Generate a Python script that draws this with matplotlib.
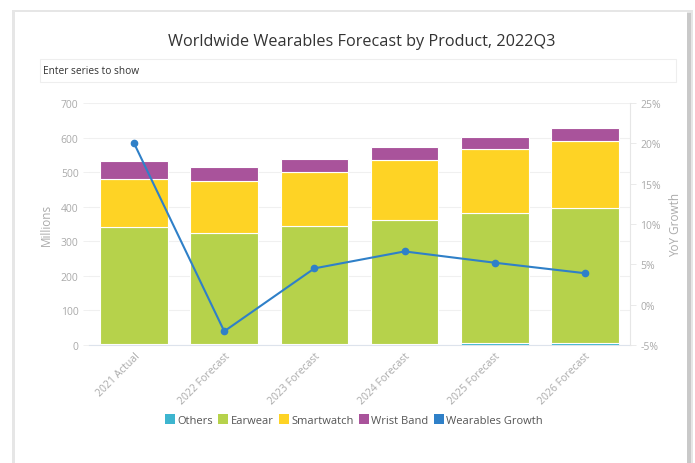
import numpy as np
import matplotlib
matplotlib.use("Agg")
import matplotlib.pyplot as plt
from matplotlib.patches import Rectangle, Patch

plt.rcParams['font.family'] = ['Open Sans', 'DejaVu Sans']

# data
years = ['2021 Actual', '2022 Forecast', '2023 Forecast', '2024 Forecast',
         '2025 Forecast', '2026 Forecast']
others = [3, 3, 3, 4, 5, 6]
earwear = [339, 322, 340, 358, 376, 391]
smartwatch = [137, 150, 157, 174, 185, 194]
wristband = [53, 40, 38, 38, 37, 37]
growth = [20.0, -3.3, 4.5, 6.6, 5.2, 3.9]

c_others = '#3db5cf'
c_ear = '#b6d24b'
c_smart = '#fed325'
c_wrist = '#a9539b'
c_growth = '#2f80c8'
tick_col = '#aaaaaa'

fig = plt.figure(figsize=(6.95, 4.64), dpi=100)

# card with shadow
fig.patches.append(Rectangle((12 / 695, -0.02), 681 / 695, 1 - 11 / 464 + 0.02,
                             transform=fig.transFigure, facecolor='#e6e6e6',
                             edgecolor='none', zorder=-4))
fig.patches.append(Rectangle((686 / 695, -0.02), 5 / 695, 1 - 14 / 464 + 0.02,
                             transform=fig.transFigure, facecolor='#c9c9c9',
                             edgecolor='none', zorder=-3))
fig.patches.append(Rectangle((15 / 695, -0.02), 672 / 695, 1 - 13 / 464 + 0.02,
                             transform=fig.transFigure, facecolor='white',
                             edgecolor='none', zorder=-2))
# series filter box
fig.patches.append(Rectangle((40 / 695, 1 - 83 / 464), 636 / 695, 23 / 464,
                             transform=fig.transFigure, facecolor='white',
                             edgecolor='#eeeeee', lw=0.8, zorder=-1))
fig.text(43 / 695, 1 - 72 / 464, 'Enter series to show', fontsize=7.3,
         color='#333333', va='center', ha='left')

fig.text(362 / 695, 1 - 42 / 464, 'Worldwide Wearables Forecast by Product, 2022Q3',
         fontsize=11.7, color='#333333', ha='center', va='center')

ax = fig.add_axes([89 / 695, 1 - 346 / 464, 541 / 695, 242 / 464])
x = np.arange(len(years))
w = 0.75
b1 = np.array(others)
b2 = b1 + np.array(earwear)
b3 = b2 + np.array(smartwatch)
ax.bar(x, others, w, color=c_others, edgecolor='white', lw=0.6, zorder=2)
ax.bar(x, earwear, w, bottom=b1, color=c_ear, edgecolor='white', lw=0.8, zorder=2)
ax.bar(x, smartwatch, w, bottom=b2, color=c_smart, edgecolor='white', lw=0.8, zorder=2)
ax.bar(x, wristband, w, bottom=b3, color=c_wrist, edgecolor='white', lw=0.8, zorder=2)

ax.set_xlim(-0.5, 5.5)
ax.set_ylim(0, 700)
ax.set_yticks(np.arange(0, 701, 100))
ax.grid(axis='y', color='#f0f0f0', lw=0.8, zorder=0)
ax.set_axisbelow(True)
for s in ['top', 'right', 'left']:
    ax.spines[s].set_visible(False)
ax.spines['bottom'].set_color('#dde3ec')
ax.tick_params(axis='y', colors=tick_col, labelsize=7.5, length=4, width=0.6)
ax.tick_params(axis='y', color='#eeeeee')
ax.tick_params(axis='x', length=0, colors=tick_col, labelsize=7.5, pad=4)
ax.set_xticks(x)
ax.set_xticklabels(years, rotation=45, ha='right', rotation_mode='anchor')
ax.set_ylabel('Millions', color=tick_col, fontsize=8.5, labelpad=6)

ax2 = ax.twinx()
ax2.plot(x, growth, color=c_growth, lw=1.5, marker='o', ms=4.5, zorder=5)
ax2.set_ylim(-5, 25)
ax2.set_yticks(np.arange(-5, 26, 5))
ax2.set_yticklabels([f'{v}%' for v in range(-5, 26, 5)])
for s in ['top', 'left', 'bottom']:
    ax2.spines[s].set_visible(False)
ax2.spines['right'].set_color('#e6e6e6')
ax2.tick_params(axis='y', colors=tick_col, labelsize=7.5, length=4, width=0.6)
ax2.tick_params(axis='y', color='#e6e6e6')
ax2.set_ylabel('YoY Growth', color=tick_col, fontsize=8.5, labelpad=6)

handles = [Patch(facecolor=c, edgecolor='none') for c in
           [c_others, c_ear, c_smart, c_wrist, c_growth]]
labels = ['Others', 'Earwear', 'Smartwatch', 'Wrist Band', 'Wearables Growth']
leg = fig.legend(handles, labels, loc='center', bbox_to_anchor=(354 / 695, 1 - 421 / 464),
                 ncol=5, frameon=False, fontsize=8, handletextpad=0.2,
                 columnspacing=0.5, handlelength=0.9, handleheight=1.0)
for t in leg.get_texts():
    t.set_color('#555555')

fig.savefig('out.png', dpi=100)
